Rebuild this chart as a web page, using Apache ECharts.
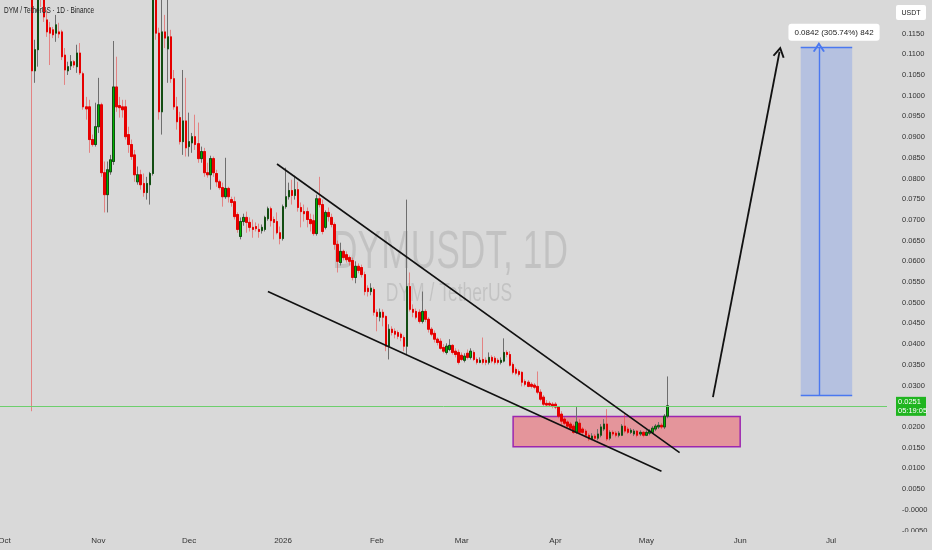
<!DOCTYPE html>
<html><head><meta charset="utf-8">
<script src="https://cdn.jsdelivr.net/npm/echarts@6/dist/echarts.min.js"></script>
<style>html,body{margin:0;padding:0;background:#d9d9d9}#c{width:932px;height:550px}</style>
</head><body><div id="c"></div>
<script>
// ---- data (DYM/USDT daily) ----
const axisStart = [2025, 9, 1];      // first category on the time axis (Oct 1 2025)
const axisDays = 292;
const firstCandle = '2025-10-10';
const openP = [
.1320,.1060,.1111,.1285,.1245,.1183,.1164,.1159,.1151,.1154,
.1154,.1098,.1060,.1072,.1082,.1070,.1103,.1053,.0973,.0973,
.0894,.0882,.0925,.0978,.0814,.0761,.0816,.0841,.1021,.0976,
.0973,.0973,.0906,.0882,.0857,.0792,.0809,.0788,.0766,.0785,
.0812,.1265,.1151,.0961,.1154,.1113,.1142,.1041,.0973,.0947,
.0889,.0939,.0877,.0886,.0901,.0884,.0848,.0865,.0814,.0809,
.0848,.0812,.0792,.0778,.0756,.0776,.0749,.0744,.0713,.0660,
.0696,.0706,.0694,.0682,.0684,.0677,.0674,.0677,.0703,.0727,
.0701,.0696,.0669,.0655,.0732,.0756,.0771,.0759,.0773,.0730,
.0720,.0720,.0701,.0698,.0667,.0751,.0737,.0682,.0718,.0706,
.0689,.0641,.0597,.0624,.0616,.0609,.0602,.0561,.0588,.0585,
.0568,.0535,.0527,.0532,.0477,.0465,.0477,.0467,.0395,.0436,
.0431,.0428,.0424,.0416,.0395,.0539,.0484,.0479,.0477,.0455,
.0479,.0460,.0436,.0426,.0412,.0407,.0392,.0380,.0387,.0397,
.0383,.0380,.0373,.0361,.0378,.0368,.0380,.0363,.0356,.0363,
.0361,.0356,.0368,.0366,.0361,.0356,.0359,.0380,.0375,.0351,
.0339,.0334,.0332,.0310,.0308,.0303,.0301,.0298,.0284,.0272,
.0257,.0257,.0255,.0255,.0248,.0231,.0219,.0212,.0207,.0202,
.0187,.0209,.0195,.0190,.0180,.0171,.0178,.0173,.0180,.0195,
.0207,.0173,.0187,.0185,.0180,.0180,.0202,.0195,.0187,.0183,
.0190,.0183,.0187,.0180,.0185,.0187,.0195,.0200,.0204,.0200,
.0226];
const closeP = [
.1060,.1111,.1262,.1250,.1190,.1154,.1151,.1147,.1171,.1149,
.1094,.1062,.1070,.1082,.1074,.1103,.1055,.0973,.0968,.0894,
.0882,.0925,.0978,.0814,.0761,.0821,.0845,.1021,.0973,.0971,
.0966,.0901,.0882,.0853,.0809,.0809,.0785,.0766,.0788,.0812,
.1265,.1151,.0961,.1154,.1139,.1142,.1041,.0973,.0937,.0889,
.0939,.0874,.0889,.0901,.0882,.0848,.0865,.0814,.0809,.0848,
.0814,.0792,.0778,.0756,.0776,.0756,.0742,.0708,.0677,.0696,
.0706,.0694,.0682,.0677,.0679,.0672,.0682,.0706,.0727,.0698,
.0694,.0669,.0655,.0732,.0756,.0771,.0759,.0773,.0730,.0720,
.0715,.0701,.0691,.0667,.0751,.0737,.0672,.0718,.0708,.0689,
.0641,.0600,.0624,.0609,.0604,.0600,.0561,.0588,.0578,.0568,
.0527,.0527,.0535,.0477,.0467,.0477,.0465,.0395,.0436,.0428,
.0424,.0419,.0416,.0395,.0539,.0484,.0477,.0465,.0455,.0479,
.0460,.0436,.0424,.0412,.0404,.0390,.0383,.0395,.0397,.0380,
.0375,.0356,.0363,.0371,.0368,.0383,.0363,.0356,.0361,.0356,
.0356,.0368,.0359,.0356,.0356,.0361,.0380,.0375,.0349,.0332,
.0330,.0327,.0308,.0303,.0298,.0298,.0296,.0284,.0267,.0255,
.0253,.0253,.0250,.0248,.0226,.0214,.0209,.0202,.0197,.0187,
.0212,.0187,.0187,.0180,.0171,.0178,.0173,.0183,.0200,.0207,
.0171,.0187,.0183,.0180,.0185,.0202,.0190,.0187,.0192,.0190,
.0180,.0187,.0180,.0187,.0190,.0197,.0202,.0204,.0200,.0226,
.0251];
const lowP = [
.0238,.1031,.1070,.1214,.1178,.1142,.1074,.1139,.1130,.1139,
.1086,.1026,.1050,.1062,.1067,.1055,.1050,.0966,.0942,.0862,
.0877,.0877,.0910,.0804,.0718,.0718,.0809,.0833,.0961,.0947,
.0947,.0894,.0862,.0845,.0792,.0785,.0773,.0756,.0749,.0737,
.0807,.1135,.0942,.0906,.1115,.1031,.1031,.0966,.0918,.0882,
.0857,.0853,.0853,.0862,.0869,.0838,.0838,.0804,.0802,.0773,
.0804,.0780,.0773,.0732,.0751,.0742,.0732,.0701,.0669,.0653,
.0686,.0669,.0672,.0657,.0672,.0657,.0667,.0672,.0698,.0684,
.0653,.0665,.0641,.0650,.0727,.0749,.0737,.0749,.0720,.0682,
.0696,.0682,.0672,.0662,.0662,.0730,.0665,.0677,.0696,.0682,
.0628,.0573,.0590,.0602,.0597,.0590,.0554,.0547,.0571,.0561,
.0518,.0515,.0518,.0469,.0431,.0455,.0443,.0383,.0363,.0421,
.0414,.0412,.0407,.0383,.0375,.0479,.0465,.0460,.0450,.0450,
.0453,.0428,.0419,.0404,.0397,.0387,.0378,.0375,.0383,.0375,
.0368,.0351,.0359,.0356,.0363,.0363,.0359,.0351,.0354,.0351,
.0349,.0351,.0354,.0351,.0351,.0351,.0356,.0368,.0346,.0327,
.0325,.0322,.0298,.0298,.0296,.0293,.0291,.0279,.0262,.0250,
.0248,.0248,.0245,.0243,.0221,.0202,.0204,.0197,.0192,.0183,
.0183,.0183,.0180,.0175,.0166,.0168,.0168,.0168,.0175,.0190,
.0166,.0168,.0178,.0175,.0175,.0178,.0185,.0183,.0183,.0178,
.0175,.0178,.0175,.0178,.0180,.0183,.0190,.0195,.0195,.0195,
.0221];
const highP = [
.1350,.1135,.1290,.1320,.1265,.1207,.1178,.1166,.1195,.1176,
.1159,.1115,.1082,.1098,.1086,.1123,.1127,.1058,.0997,.0990,
.0906,.0983,.1043,.0983,.0841,.0841,.0857,.1132,.1094,.0997,
.0990,.0990,.0925,.0894,.0869,.0829,.0821,.0812,.0804,.0816,
.1310,.1300,.1164,.1240,.1195,.1240,.1159,.1062,.0997,.0961,
.1062,.1043,.0959,.0910,.0954,.0935,.0877,.0874,.0838,.0855,
.0853,.0821,.0797,.0790,.0850,.0780,.0756,.0756,.0718,.0706,
.0715,.0720,.0706,.0701,.0694,.0691,.0689,.0710,.0732,.0732,
.0708,.0718,.0684,.0737,.0826,.0790,.0797,.0807,.0792,.0742,
.0737,.0730,.0715,.0713,.0761,.0804,.0749,.0723,.0730,.0715,
.0694,.0650,.0645,.0628,.0624,.0614,.0609,.0600,.0595,.0592,
.0575,.0542,.0547,.0537,.0484,.0486,.0484,.0469,.0448,.0443,
.0438,.0433,.0428,.0421,.0749,.0573,.0496,.0486,.0484,.0527,
.0484,.0465,.0441,.0433,.0416,.0414,.0400,.0402,.0412,.0400,
.0390,.0387,.0380,.0378,.0387,.0390,.0385,.0368,.0368,.0416,
.0368,.0380,.0373,.0371,.0366,.0368,.0414,.0385,.0383,.0356,
.0344,.0339,.0334,.0315,.0313,.0308,.0306,.0334,.0291,.0277,
.0265,.0262,.0260,.0260,.0250,.0238,.0224,.0216,.0212,.0207,
.0248,.0219,.0200,.0195,.0185,.0185,.0183,.0195,.0207,.0219,
.0243,.0192,.0192,.0190,.0190,.0207,.0231,.0200,.0197,.0195,
.0192,.0192,.0190,.0192,.0195,.0202,.0207,.0212,.0209,.0231,
.0322];
const monthLabels = {
  '2025-10-01':'Oct','2025-11-01':'Nov','2025-12-01':'Dec','2026-01-01':'2026',
  '2026-02-01':'Feb','2026-03-01':'Mar','2026-04-01':'Apr','2026-05-01':'May',
  '2026-06-01':'Jun','2026-07-01':'Jul'
};
const yMin = -0.005, yMax = 0.1231, yStep = 0.005;
const currentPrice = 0.0251;
const currentPriceText = ['0.0251', '05:19:05'];
const upperTrend = [['2025-12-30', 0.0835], ['2026-05-12', 0.0138]];
const lowerTrend = [['2025-12-27', 0.0527], ['2026-05-06', 0.0093]];
const bigArrow = [['2026-05-23', 0.0272], ['2026-06-14', 0.1106]];
const zoneBox = [['2026-03-18', 0.0225], ['2026-06-01', 0.0152]];
const targetBox = [['2026-06-21', 0.11174], ['2026-07-08', 0.02754]];
const targetArrowDay = '2026-06-27';
const targetLabel = { day: '2026-07-02', price: 0.1153, text: '0.0842 (305.74%) 842' };
const title = 'DYM / TetherUS · 1D · Binance';
const watermark = ['DYMUSDT, 1D', 'DYM / TetherUS'];

// ---- build ----
const BG = '#d9d9d9';
const cats = [];
for (let k = 0; k < axisDays; k++) {
  const d = new Date(Date.UTC(axisStart[0], axisStart[1], axisStart[2] + k));
  cats.push(d.toISOString().slice(0, 10));
}
const offset = cats.indexOf(firstCandle);
const full = cats.map((d, k) => {
  const j = k - offset;
  return (j >= 0 && j < openP.length) ? [openP[j], closeP[j], lowP[j], highP[j]] : '-';
});
const bodies = cats.map((d, k) => {
  const j = k - offset;
  return (j >= 0 && j < openP.length)
    ? [openP[j], closeP[j], Math.min(openP[j], closeP[j]), Math.max(openP[j], closeP[j])] : '-';
});
const chevron = 'path://M5,0 L10,9 L8.6,9.8 L5,3.4 L1.4,9.8 L0,9 Z';
const axisFont = "'Liberation Sans Narrow','Liberation Sans',sans-serif";

const chart = echarts.init(document.getElementById('c'), null, { renderer: 'canvas' });
chart.setOption({
  animation: false,
  backgroundColor: BG,
  grid: { left: 3, right: 45, top: 0, bottom: 19.5, containLabel: false, outerBoundsMode: 'none' },
  xAxis: {
    type: 'category', data: cats, boundaryGap: true,
    axisLine: { show: false }, axisTick: { show: false }, splitLine: { show: false },
    axisLabel: {
      interval: (idx, val) => monthLabels[val] !== undefined,
      formatter: (val) => monthLabels[val] || '',
      fontSize: 8, color: '#333', margin: 6, fontFamily: axisFont, hideOverlap: false
    }
  },
  yAxis: {
    type: 'value', position: 'right', min: yMin, max: yMax, interval: yStep, scale: true,
    axisLine: { show: false }, axisTick: { show: false }, splitLine: { show: false },
    axisLabel: {
      showMaxLabel: false, margin: 15, fontSize: 7.5, color: '#333', fontFamily: axisFont,
      formatter: (v) => {
        if (v > 0.1195) return '';
        if (Math.abs(v - currentPrice) < 0.002) return '';
        if (Math.abs(v) < 1e-9) return '-0.0000';
        return v.toFixed(4);
      }
    }
  },
  series: [
    {
      name: 'wicks', type: 'candlestick', data: full, barWidth: 2, clip: true,
      itemStyle: {
        color: '#7a7a7a', color0: 'rgba(235,60,60,0.55)',
        borderColor: '#6e6e6e', borderColor0: 'rgba(235,60,60,0.55)', borderWidth: 1
      },
      markArea: {
        silent: true,
        data: [
          [{ coord: zoneBox[0], itemStyle: { color: 'rgba(242,54,69,0.42)', borderColor: '#9c27b0', borderWidth: 1.5 } },
           { coord: zoneBox[1] }],
          [{ coord: targetBox[0], itemStyle: { color: 'rgba(41,98,255,0.2)', borderWidth: 0 } },
           { coord: targetBox[1] }]
        ]
      }
    },
    {
      name: 'bodies', type: 'candlestick', data: bodies, barWidth: 2, clip: true,
      itemStyle: {
        color: '#00b400', color0: '#e60000',
        borderColor: '#124d12', borderColor0: '#e60000', borderWidth: 1
      },
      markLine: {
        silent: true, symbol: ['none', 'none'], animation: false,
        label: { show: false },
        data: [
          [{ yAxis: currentPrice, x: 0, lineStyle: { color: '#6dcf6d', width: 1, type: 'solid' } },
           { yAxis: currentPrice, x: 887 }],
          [{ coord: upperTrend[0], lineStyle: { color: '#111', width: 1.6, type: 'solid' } }, { coord: upperTrend[1] }],
          [{ coord: lowerTrend[0], lineStyle: { color: '#111', width: 1.6, type: 'solid' } }, { coord: lowerTrend[1] }],
          [{ coord: bigArrow[0], lineStyle: { color: '#111', width: 1.8, type: 'solid' } },
           { coord: bigArrow[1], symbol: chevron, symbolSize: [12, 11] }],
          [{ coord: [targetBox[0][0], targetBox[0][1]], lineStyle: { color: '#4a78f0', width: 1.4, type: 'solid' } },
           { coord: [targetBox[1][0], targetBox[0][1]] }],
          [{ coord: [targetBox[0][0], targetBox[1][1]], lineStyle: { color: '#4a78f0', width: 1.4, type: 'solid' } },
           { coord: [targetBox[1][0], targetBox[1][1]] }],
          [{ coord: [targetArrowDay, targetBox[1][1]], lineStyle: { color: '#4a78f0', width: 1.4, type: 'solid' } },
           { coord: [targetArrowDay, targetBox[0][1]], symbol: chevron, symbolSize: [12, 10] }]
        ]
      },
      markPoint: {
        silent: true, symbol: 'rect', symbolSize: 0,
        data: [{ coord: [targetLabel.day, targetLabel.price], value: targetLabel.text }],
        label: {
          show: true, position: 'inside', formatter: targetLabel.text,
          backgroundColor: '#ffffff', borderRadius: 3, padding: [5, 6, 4, 6],
          color: '#222', fontSize: 8, fontFamily: axisFont
        }
      }
    }
  ]
});

const py = chart.convertToPixel({ yAxisIndex: 0 }, currentPrice);
const txt = (s) => Object.assign({ align: 'left', verticalAlign: 'middle', textAlign: 'left', textVerticalAlign: 'middle' }, s);
chart.setOption({
  graphic: [
    { type: 'text', id: 'wm1', x: 450, y: 253, scaleX: 0.668, silent: true, z: 0,
      style: { text: watermark[0], font: '53px "Liberation Sans"', fill: 'rgba(0,0,0,0.1)',
               align: 'center', verticalAlign: 'middle', textAlign: 'center', textVerticalAlign: 'middle' } },
    { type: 'text', id: 'wm2', x: 449, y: 294, scaleX: 0.7, silent: true, z: 0,
      style: { text: watermark[1], font: '25px "Liberation Sans"', fill: 'rgba(0,0,0,0.1)',
               align: 'center', verticalAlign: 'middle', textAlign: 'center', textVerticalAlign: 'middle' } },
    { type: 'text', id: 'title', x: 4, y: 11, scaleX: 0.72, silent: true, z: 50,
      style: txt({ text: title, font: '9px "Liberation Sans"', fill: '#222' }) },
    { type: 'rect', id: 'clip', z: 90, silent: true, shape: { x: 887, y: 532, width: 45, height: 18 }, style: { fill: BG } },
    { type: 'rect', id: 'usdtBox', z: 100, silent: true, shape: { x: 896, y: 5, width: 30, height: 15, r: 2 }, style: { fill: '#ffffff' } },
    { type: 'text', id: 'usdtText', z: 101, silent: true, x: 911, y: 12.7,
      style: { text: 'USDT', font: '7px ' + axisFont, fill: '#222',
               align: 'center', verticalAlign: 'middle', textAlign: 'center', textVerticalAlign: 'middle' } },
    { type: 'rect', id: 'priceBox', z: 100, silent: true, shape: { x: 896, y: py - 9, width: 30, height: 19 }, style: { fill: '#1fb51f' } },
    { type: 'text', id: 'priceText1', z: 101, silent: true, x: 898, y: py - 4,
      style: txt({ text: currentPriceText[0], font: '7.5px ' + axisFont, fill: '#fff' }) },
    { type: 'text', id: 'priceText2', z: 101, silent: true, x: 898, y: py + 5,
      style: txt({ text: currentPriceText[1], font: '7.5px ' + axisFont, fill: '#fff' }) }
  ]
});
</script>
</body></html>
